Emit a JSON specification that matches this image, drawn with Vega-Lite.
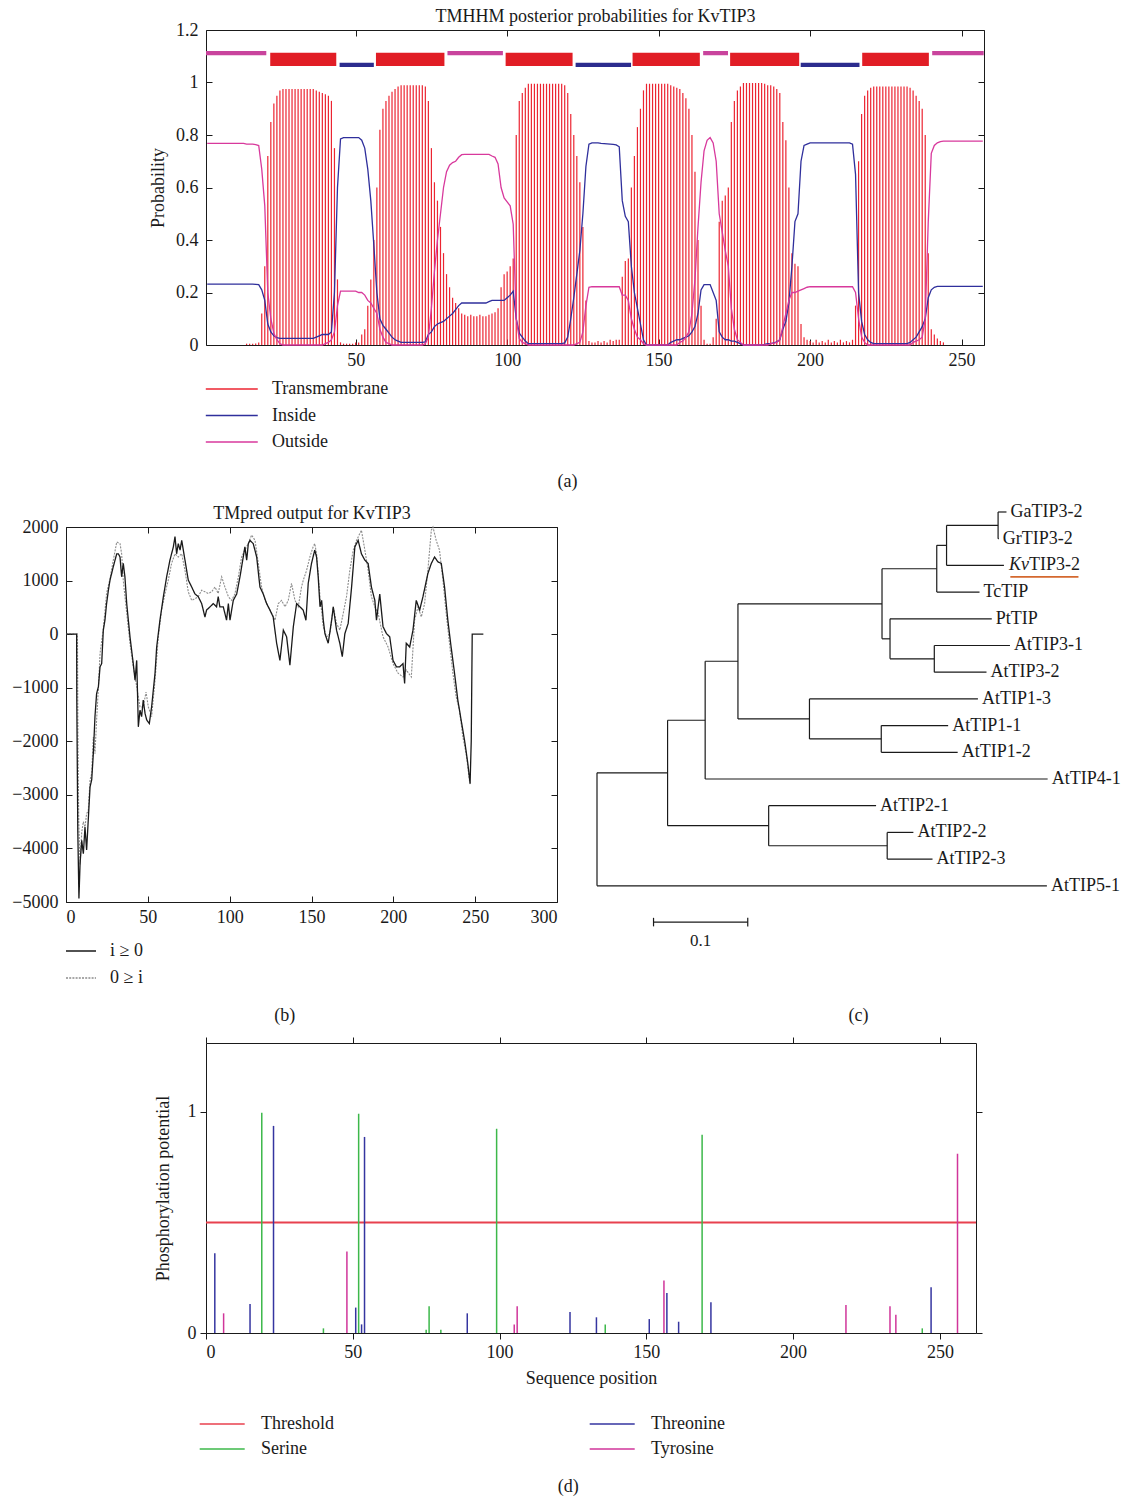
{
"$schema": "https://vega.github.io/schema/vega-lite/v6.json",
"padding": {"left": 11, "top": 7, "right": 0, "bottom": 0},
"background": "white",
"config": {
  "font": "Liberation Serif",
  "view": {"stroke": "#1a1a1a", "strokeWidth": 1},
  "axis": {"labelFont": "Liberation Serif", "titleFont": "Liberation Serif", "labelFontSize": 18, "titleFontSize": 18, "titleFontWeight": "normal", "labelColor": "#1a1a1a", "titleColor": "#1a1a1a", "tickColor": "#1a1a1a", "domain": false, "grid": false},
  "legend": {"labelFont": "Liberation Serif", "labelFontSize": 18, "labelColor": "#1a1a1a", "padding": 0},
  "title": {"font": "Liberation Serif", "fontSize": 18, "fontWeight": "normal", "color": "#1a1a1a"},
  "text": {"font": "Liberation Serif"}
},
"datasets": {
  "tmhmm": [
{"p":1,"t":0,"i":0.232,"o":0.768},{"p":2,"t":0,"i":0.232,"o":0.768},{"p":3,"t":0,"i":0.232,"o":0.768},{"p":4,"t":0,"i":0.232,"o":0.768},{"p":5,"t":0,"i":0.232,"o":0.768},{"p":6,"t":0,"i":0.232,"o":0.768},{"p":7,"t":0,"i":0.232,"o":0.768},{"p":8,"t":0,"i":0.232,"o":0.768},{"p":9,"t":0,"i":0.232,"o":0.768},{"p":10,"t":0,"i":0.232,"o":0.768},
{"p":11,"t":0,"i":0.232,"o":0.768},{"p":12,"t":0,"i":0.232,"o":0.768},{"p":13,"t":0,"i":0.232,"o":0.768},{"p":14,"t":0.005,"i":0.232,"o":0.765},{"p":15,"t":0.005,"i":0.232,"o":0.765},{"p":16,"t":0.005,"i":0.232,"o":0.765},{"p":17,"t":0.006,"i":0.231,"o":0.763},{"p":18,"t":0.01,"i":0.23,"o":0.76},{"p":19,"t":0.12,"i":0.21,"o":0.67},{"p":20,"t":0.3,"i":0.17,"o":0.53},
{"p":21,"t":0.72,"i":0.08,"o":0.2},{"p":22,"t":0.85,"i":0.05,"o":0.1},{"p":23,"t":0.92,"i":0.035,"o":0.045},{"p":24,"t":0.95,"i":0.028,"o":0.02},{"p":25,"t":0.97,"i":0.025,"o":0.005},{"p":26,"t":0.975,"i":0.025,"o":0},{"p":27,"t":0.975,"i":0.025,"o":0},{"p":28,"t":0.975,"i":0.025,"o":0},{"p":29,"t":0.975,"i":0.025,"o":0},{"p":30,"t":0.975,"i":0.025,"o":0},
{"p":31,"t":0.975,"i":0.025,"o":0},{"p":32,"t":0.975,"i":0.025,"o":0},{"p":33,"t":0.975,"i":0.025,"o":0},{"p":34,"t":0.975,"i":0.025,"o":0},{"p":35,"t":0.975,"i":0.025,"o":0},{"p":36,"t":0.975,"i":0.025,"o":0},{"p":37,"t":0.97,"i":0.03,"o":0},{"p":38,"t":0.965,"i":0.035,"o":0},{"p":39,"t":0.96,"i":0.04,"o":0},{"p":40,"t":0.955,"i":0.04,"o":0.005},
{"p":41,"t":0.95,"i":0.04,"o":0.01},{"p":42,"t":0.93,"i":0.05,"o":0.02},{"p":43,"t":0.75,"i":0.2,"o":0.05},{"p":44,"t":0.25,"i":0.6,"o":0.15},{"p":45,"t":0.01,"i":0.785,"o":0.205},{"p":46,"t":0.005,"i":0.79,"o":0.205},{"p":47,"t":0.005,"i":0.79,"o":0.205},{"p":48,"t":0.005,"i":0.79,"o":0.205},{"p":49,"t":0.005,"i":0.79,"o":0.205},{"p":50,"t":0.01,"i":0.79,"o":0.205},
{"p":51,"t":0.01,"i":0.79,"o":0.2},{"p":52,"t":0.04,"i":0.78,"o":0.2},{"p":53,"t":0.06,"i":0.75,"o":0.19},{"p":54,"t":0.15,"i":0.67,"o":0.17},{"p":55,"t":0.25,"i":0.55,"o":0.16},{"p":56,"t":0.4,"i":0.38,"o":0.14},{"p":57,"t":0.6,"i":0.2,"o":0.12},{"p":58,"t":0.82,"i":0.1,"o":0.06},{"p":59,"t":0.9,"i":0.075,"o":0.03},{"p":60,"t":0.93,"i":0.06,"o":0.01},
{"p":61,"t":0.95,"i":0.045,"o":0.005},{"p":62,"t":0.965,"i":0.03,"o":0},{"p":63,"t":0.975,"i":0.02,"o":0},{"p":64,"t":0.985,"i":0.015,"o":0},{"p":65,"t":0.99,"i":0.01,"o":0},{"p":66,"t":0.99,"i":0.01,"o":0},{"p":67,"t":0.99,"i":0.01,"o":0},{"p":68,"t":0.99,"i":0.01,"o":0},{"p":69,"t":0.99,"i":0.01,"o":0},{"p":70,"t":0.99,"i":0.01,"o":0},
{"p":71,"t":0.99,"i":0.01,"o":0},{"p":72,"t":0.99,"i":0.01,"o":0},{"p":73,"t":0.985,"i":0.012,"o":0.005},{"p":74,"t":0.93,"i":0.04,"o":0.03},{"p":75,"t":0.75,"i":0.05,"o":0.14},{"p":76,"t":0.62,"i":0.07,"o":0.28},{"p":77,"t":0.55,"i":0.08,"o":0.4},{"p":78,"t":0.45,"i":0.085,"o":0.5},{"p":79,"t":0.35,"i":0.09,"o":0.6},{"p":80,"t":0.27,"i":0.1,"o":0.66},
{"p":81,"t":0.22,"i":0.11,"o":0.685},{"p":82,"t":0.18,"i":0.12,"o":0.695},{"p":83,"t":0.16,"i":0.135,"o":0.7},{"p":84,"t":0.14,"i":0.15,"o":0.715},{"p":85,"t":0.12,"i":0.16,"o":0.725},{"p":86,"t":0.115,"i":0.16,"o":0.726},{"p":87,"t":0.11,"i":0.16,"o":0.726},{"p":88,"t":0.115,"i":0.16,"o":0.726},{"p":89,"t":0.11,"i":0.16,"o":0.726},{"p":90,"t":0.11,"i":0.16,"o":0.726},
{"p":91,"t":0.115,"i":0.16,"o":0.726},{"p":92,"t":0.11,"i":0.16,"o":0.726},{"p":93,"t":0.11,"i":0.16,"o":0.726},{"p":94,"t":0.115,"i":0.165,"o":0.726},{"p":95,"t":0.12,"i":0.17,"o":0.72},{"p":96,"t":0.125,"i":0.17,"o":0.715},{"p":97,"t":0.14,"i":0.17,"o":0.69},{"p":98,"t":0.22,"i":0.17,"o":0.6},{"p":99,"t":0.27,"i":0.17,"o":0.56},{"p":100,"t":0.28,"i":0.18,"o":0.545},
{"p":101,"t":0.3,"i":0.19,"o":0.53},{"p":102,"t":0.33,"i":0.205,"o":0.46},{"p":103,"t":0.8,"i":0.1,"o":0.1},{"p":104,"t":0.93,"i":0.045,"o":0.025},{"p":105,"t":0.96,"i":0.03,"o":0.01},{"p":106,"t":0.98,"i":0.015,"o":0.005},{"p":107,"t":0.995,"i":0.005,"o":0},{"p":108,"t":0.995,"i":0.005,"o":0},{"p":109,"t":0.995,"i":0.005,"o":0},{"p":110,"t":0.995,"i":0.005,"o":0},
{"p":111,"t":0.995,"i":0.005,"o":0},{"p":112,"t":0.995,"i":0.005,"o":0},{"p":113,"t":0.995,"i":0.005,"o":0},{"p":114,"t":0.995,"i":0.005,"o":0},{"p":115,"t":0.995,"i":0.005,"o":0},{"p":116,"t":0.995,"i":0.005,"o":0},{"p":117,"t":0.995,"i":0.005,"o":0},{"p":118,"t":0.995,"i":0.005,"o":0},{"p":119,"t":0.99,"i":0.008,"o":0},{"p":120,"t":0.96,"i":0.03,"o":0},
{"p":121,"t":0.88,"i":0.1,"o":0},{"p":122,"t":0.8,"i":0.18,"o":0},{"p":123,"t":0.72,"i":0.27,"o":0.005},{"p":124,"t":0.62,"i":0.36,"o":0.01},{"p":125,"t":0.45,"i":0.5,"o":0.05},{"p":126,"t":0.17,"i":0.68,"o":0.15},{"p":127,"t":0.015,"i":0.765,"o":0.22},{"p":128,"t":0.01,"i":0.77,"o":0.222},{"p":129,"t":0.01,"i":0.77,"o":0.222},{"p":130,"t":0.015,"i":0.77,"o":0.222},
{"p":131,"t":0.01,"i":0.768,"o":0.222},{"p":132,"t":0.015,"i":0.767,"o":0.222},{"p":133,"t":0.01,"i":0.766,"o":0.222},{"p":134,"t":0.02,"i":0.765,"o":0.222},{"p":135,"t":0.015,"i":0.764,"o":0.222},{"p":136,"t":0.02,"i":0.762,"o":0.222},{"p":137,"t":0.02,"i":0.755,"o":0.222},{"p":138,"t":0.26,"i":0.55,"o":0.19},{"p":139,"t":0.32,"i":0.49,"o":0.19},{"p":140,"t":0.33,"i":0.47,"o":0.17},
{"p":141,"t":0.6,"i":0.3,"o":0.1},{"p":142,"t":0.72,"i":0.2,"o":0.06},{"p":143,"t":0.83,"i":0.14,"o":0.03},{"p":144,"t":0.9,"i":0.08,"o":0.02},{"p":145,"t":0.97,"i":0.02,"o":0.005},{"p":146,"t":0.995,"i":0,"o":0},{"p":147,"t":0.995,"i":0,"o":0},{"p":148,"t":0.995,"i":0,"o":0},{"p":149,"t":0.995,"i":0,"o":0},{"p":150,"t":0.995,"i":0,"o":0},
{"p":151,"t":0.995,"i":0,"o":0},{"p":152,"t":0.995,"i":0,"o":0},{"p":153,"t":0.995,"i":0,"o":0},{"p":154,"t":0.99,"i":0.01,"o":0},{"p":155,"t":0.985,"i":0.015,"o":0},{"p":156,"t":0.98,"i":0.02,"o":0},{"p":157,"t":0.975,"i":0.02,"o":0.01},{"p":158,"t":0.96,"i":0.025,"o":0.015},{"p":159,"t":0.94,"i":0.03,"o":0.03},{"p":160,"t":0.9,"i":0.035,"o":0.05},
{"p":161,"t":0.8,"i":0.05,"o":0.12},{"p":162,"t":0.66,"i":0.07,"o":0.25},{"p":163,"t":0.4,"i":0.12,"o":0.45},{"p":164,"t":0.15,"i":0.21,"o":0.62},{"p":165,"t":0.02,"i":0.23,"o":0.74},{"p":166,"t":0.005,"i":0.23,"o":0.78},{"p":167,"t":0.005,"i":0.23,"o":0.79},{"p":168,"t":0.03,"i":0.2,"o":0.77},{"p":169,"t":0.1,"i":0.17,"o":0.7},{"p":170,"t":0.47,"i":0.05,"o":0.5},
{"p":171,"t":0.55,"i":0.03,"o":0.43},{"p":172,"t":0.57,"i":0.02,"o":0.36},{"p":173,"t":0.6,"i":0.02,"o":0.3},{"p":174,"t":0.85,"i":0.015,"o":0.14},{"p":175,"t":0.93,"i":0.015,"o":0.06},{"p":176,"t":0.97,"i":0.01,"o":0.02},{"p":177,"t":0.985,"i":0.005,"o":0.01},{"p":178,"t":0.998,"i":0,"o":0},{"p":179,"t":0.998,"i":0,"o":0},{"p":180,"t":0.998,"i":0,"o":0},
{"p":181,"t":0.998,"i":0,"o":0},{"p":182,"t":0.998,"i":0,"o":0},{"p":183,"t":0.998,"i":0,"o":0},{"p":184,"t":0.998,"i":0,"o":0},{"p":185,"t":0.995,"i":0.002,"o":0},{"p":186,"t":0.99,"i":0.005,"o":0},{"p":187,"t":0.99,"i":0.005,"o":0.005},{"p":188,"t":0.985,"i":0.008,"o":0.007},{"p":189,"t":0.975,"i":0.012,"o":0.01},{"p":190,"t":0.96,"i":0.02,"o":0.02},
{"p":191,"t":0.85,"i":0.06,"o":0.07},{"p":192,"t":0.78,"i":0.09,"o":0.12},{"p":193,"t":0.6,"i":0.16,"o":0.17},{"p":194,"t":0.35,"i":0.3,"o":0.2},{"p":195,"t":0.31,"i":0.47,"o":0.2},{"p":196,"t":0.3,"i":0.5,"o":0.205},{"p":197,"t":0.08,"i":0.7,"o":0.21},{"p":198,"t":0.03,"i":0.76,"o":0.215},{"p":199,"t":0.02,"i":0.765,"o":0.22},{"p":200,"t":0.015,"i":0.77,"o":0.222},
{"p":201,"t":0.01,"i":0.77,"o":0.222},{"p":202,"t":0.02,"i":0.77,"o":0.222},{"p":203,"t":0.01,"i":0.77,"o":0.222},{"p":204,"t":0.015,"i":0.77,"o":0.222},{"p":205,"t":0.01,"i":0.77,"o":0.222},{"p":206,"t":0.02,"i":0.77,"o":0.222},{"p":207,"t":0.01,"i":0.77,"o":0.222},{"p":208,"t":0.015,"i":0.77,"o":0.222},{"p":209,"t":0.01,"i":0.77,"o":0.222},{"p":210,"t":0.02,"i":0.77,"o":0.222},
{"p":211,"t":0.01,"i":0.77,"o":0.222},{"p":212,"t":0.015,"i":0.77,"o":0.222},{"p":213,"t":0.01,"i":0.77,"o":0.222},{"p":214,"t":0.02,"i":0.765,"o":0.222},{"p":215,"t":0.15,"i":0.65,"o":0.2},{"p":216,"t":0.7,"i":0.2,"o":0.1},{"p":217,"t":0.88,"i":0.09,"o":0.03},{"p":218,"t":0.95,"i":0.04,"o":0.01},{"p":219,"t":0.97,"i":0.02,"o":0},{"p":220,"t":0.98,"i":0.01,"o":0},
{"p":221,"t":0.985,"i":0.005,"o":0},{"p":222,"t":0.985,"i":0.005,"o":0},{"p":223,"t":0.985,"i":0.005,"o":0},{"p":224,"t":0.985,"i":0.005,"o":0},{"p":225,"t":0.985,"i":0.005,"o":0},{"p":226,"t":0.985,"i":0.005,"o":0},{"p":227,"t":0.985,"i":0.005,"o":0},{"p":228,"t":0.985,"i":0.005,"o":0},{"p":229,"t":0.985,"i":0.005,"o":0},{"p":230,"t":0.985,"i":0.005,"o":0},
{"p":231,"t":0.985,"i":0.005,"o":0},{"p":232,"t":0.985,"i":0.005,"o":0},{"p":233,"t":0.98,"i":0.01,"o":0},{"p":234,"t":0.97,"i":0.02,"o":0.01},{"p":235,"t":0.95,"i":0.03,"o":0.015},{"p":236,"t":0.93,"i":0.05,"o":0.02},{"p":237,"t":0.9,"i":0.07,"o":0.03},{"p":238,"t":0.8,"i":0.1,"o":0.1},{"p":239,"t":0.35,"i":0.18,"o":0.47},{"p":240,"t":0.06,"i":0.21,"o":0.73},
{"p":241,"t":0.04,"i":0.22,"o":0.76},{"p":242,"t":0.025,"i":0.223,"o":0.77},{"p":243,"t":0.015,"i":0.223,"o":0.775},{"p":244,"t":0.01,"i":0.223,"o":0.777},{"p":245,"t":0,"i":0.223,"o":0.777},{"p":246,"t":0,"i":0.223,"o":0.777},{"p":247,"t":0,"i":0.223,"o":0.777},{"p":248,"t":0,"i":0.223,"o":0.777},{"p":249,"t":0,"i":0.223,"o":0.777},{"p":250,"t":0,"i":0.223,"o":0.777},
{"p":251,"t":0,"i":0.223,"o":0.777},{"p":252,"t":0,"i":0.223,"o":0.777},{"p":253,"t":0,"i":0.223,"o":0.777},{"p":254,"t":0,"i":0.223,"o":0.777},{"p":255,"t":0,"i":0.223,"o":0.777},{"p":256,"t":0,"i":0.223,"o":0.777},{"p":257,"t":0,"i":0.223,"o":0.777}
  ],
  "topo": [
{"s":"out","a":0.6,"b":20.5},{"s":"tm","a":21.8,"b":43.6},{"s":"in","a":44.7,"b":56.0},{"s":"tm","a":56.7,"b":79.3},{"s":"out","a":80.3,"b":98.6},{"s":"tm","a":99.5,"b":121.6},{"s":"in","a":122.6,"b":140.9},{"s":"tm","a":141.4,"b":163.6},{"s":"out","a":164.7,"b":172.9},{"s":"tm","a":173.6,"b":196.4},{"s":"in","a":196.9,"b":216.3},{"s":"tm","a":217.2,"b":239.2},{"s":"out","a":240.3,"b":257.3}
  ],
  "tmpred": [
{"s":"i ≥ 0","x":0,"v":0},{"s":"i ≥ 0","x":6.5,"v":0},{"s":"i ≥ 0","x":6.6,"v":-1230},{"s":"i ≥ 0","x":7.2,"v":-3660},{"s":"i ≥ 0","x":7.9,"v":-4935},{"s":"i ≥ 0","x":8.6,"v":-4280},{"s":"i ≥ 0","x":9.6,"v":-3850},{"s":"i ≥ 0","x":10.6,"v":-4100},{"s":"i ≥ 0","x":11.6,"v":-3600},{"s":"i ≥ 0","x":12.6,"v":-4030},{"s":"i ≥ 0","x":13.6,"v":-3470},{"s":"i ≥ 0","x":14.7,"v":-2850},{"s":"i ≥ 0","x":15.7,"v":-2720},{"s":"i ≥ 0","x":16.7,"v":-2230},{"s":"i ≥ 0","x":17.7,"v":-1540},{"s":"i ≥ 0","x":18.7,"v":-1110},{"s":"i ≥ 0","x":19.8,"v":-980},{"s":"i ≥ 0","x":20.8,"v":-610},{"s":"i ≥ 0","x":21.8,"v":-550},{"s":"i ≥ 0","x":22.8,"v":75},{"s":"i ≥ 0","x":23.8,"v":260},{"s":"i ≥ 0","x":24.8,"v":570},{"s":"i ≥ 0","x":25.9,"v":820},{"s":"i ≥ 0","x":26.9,"v":1010},{"s":"i ≥ 0","x":28.9,"v":1260},{"s":"i ≥ 0","x":31,"v":1500},{"s":"i ≥ 0","x":32,"v":1500},{"s":"i ≥ 0","x":33,"v":1440},{"s":"i ≥ 0","x":34,"v":1070},{"s":"i ≥ 0","x":35,"v":1320},{"s":"i ≥ 0","x":36,"v":1070},{"s":"i ≥ 0","x":37.1,"v":570},{"s":"i ≥ 0","x":39.1,"v":-50},{"s":"i ≥ 0","x":41.1,"v":-550},{"s":"i ≥ 0","x":42.2,"v":-860},{"s":"i ≥ 0","x":43.2,"v":-490},{"s":"i ≥ 0","x":44.2,"v":-1730},{"s":"i ≥ 0","x":45.2,"v":-1420},{"s":"i ≥ 0","x":46.2,"v":-1540},{"s":"i ≥ 0","x":47.2,"v":-1230},{"s":"i ≥ 0","x":48.3,"v":-1480},{"s":"i ≥ 0","x":49.3,"v":-1600},{"s":"i ≥ 0","x":50.9,"v":-1670},{"s":"i ≥ 0","x":52.3,"v":-1360},{"s":"i ≥ 0","x":54.4,"v":-730},{"s":"i ≥ 0","x":55.4,"v":-240},{"s":"i ≥ 0","x":57.4,"v":260},{"s":"i ≥ 0","x":59.5,"v":700},{"s":"i ≥ 0","x":61.5,"v":1070},{"s":"i ≥ 0","x":63.5,"v":1380},{"s":"i ≥ 0","x":65.6,"v":1630},{"s":"i ≥ 0","x":66.6,"v":1820},{"s":"i ≥ 0","x":67.6,"v":1500},{"s":"i ≥ 0","x":68.6,"v":1690},{"s":"i ≥ 0","x":69.7,"v":1570},{"s":"i ≥ 0","x":70.7,"v":1750},{"s":"i ≥ 0","x":72.7,"v":1380},{"s":"i ≥ 0","x":74.7,"v":1010},{"s":"i ≥ 0","x":76.8,"v":880},{"s":"i ≥ 0","x":78.8,"v":750},{"s":"i ≥ 0","x":80.8,"v":700},{"s":"i ≥ 0","x":82.9,"v":570},{"s":"i ≥ 0","x":84.9,"v":320},{"s":"i ≥ 0","x":85.9,"v":450},{"s":"i ≥ 0","x":88,"v":510},{"s":"i ≥ 0","x":90,"v":570},{"s":"i ≥ 0","x":92,"v":510},{"s":"i ≥ 0","x":93,"v":700},{"s":"i ≥ 0","x":94,"v":510},{"s":"i ≥ 0","x":96.1,"v":510},{"s":"i ≥ 0","x":98.1,"v":260},{"s":"i ≥ 0","x":99.2,"v":570},{"s":"i ≥ 0","x":100.2,"v":260},{"s":"i ≥ 0","x":102.2,"v":630},{"s":"i ≥ 0","x":104.3,"v":750},{"s":"i ≥ 0","x":106.3,"v":1070},{"s":"i ≥ 0","x":108.3,"v":1440},{"s":"i ≥ 0","x":109.3,"v":1630},{"s":"i ≥ 0","x":110.4,"v":1380},{"s":"i ≥ 0","x":111.4,"v":1690},{"s":"i ≥ 0","x":112.4,"v":1750},{"s":"i ≥ 0","x":114.4,"v":1690},{"s":"i ≥ 0","x":116.5,"v":1440},{"s":"i ≥ 0","x":118.5,"v":880},{"s":"i ≥ 0","x":120.5,"v":750},{"s":"i ≥ 0","x":122.6,"v":570},{"s":"i ≥ 0","x":124.6,"v":450},{"s":"i ≥ 0","x":126.6,"v":320},{"s":"i ≥ 0","x":128.7,"v":-170},{"s":"i ≥ 0","x":130.7,"v":-490},{"s":"i ≥ 0","x":132.8,"v":75},{"s":"i ≥ 0","x":134.8,"v":-50},{"s":"i ≥ 0","x":136.8,"v":-580},{"s":"i ≥ 0","x":138.9,"v":140},{"s":"i ≥ 0","x":140.9,"v":570},{"s":"i ≥ 0","x":142.9,"v":510},{"s":"i ≥ 0","x":144.9,"v":450},{"s":"i ≥ 0","x":146.6,"v":260},{"s":"i ≥ 0","x":148,"v":950},{"s":"i ≥ 0","x":150,"v":1320},{"s":"i ≥ 0","x":152,"v":1570},{"s":"i ≥ 0","x":153.1,"v":1440},{"s":"i ≥ 0","x":154.1,"v":1070},{"s":"i ≥ 0","x":155.2,"v":510},{"s":"i ≥ 0","x":156.2,"v":630},{"s":"i ≥ 0","x":157.2,"v":260},{"s":"i ≥ 0","x":158.2,"v":10},{"s":"i ≥ 0","x":160.2,"v":-170},{"s":"i ≥ 0","x":162.3,"v":260},{"s":"i ≥ 0","x":163.3,"v":510},{"s":"i ≥ 0","x":165.3,"v":75},{"s":"i ≥ 0","x":167.3,"v":-170},{"s":"i ≥ 0","x":168.8,"v":-420},{"s":"i ≥ 0","x":170.4,"v":10},{"s":"i ≥ 0","x":172.4,"v":200},{"s":"i ≥ 0","x":174.5,"v":880},{"s":"i ≥ 0","x":176.5,"v":1630},{"s":"i ≥ 0","x":178.5,"v":1750},{"s":"i ≥ 0","x":180.5,"v":1500},{"s":"i ≥ 0","x":182.6,"v":1380},{"s":"i ≥ 0","x":184.6,"v":1320},{"s":"i ≥ 0","x":186.6,"v":880},{"s":"i ≥ 0","x":188.7,"v":630},{"s":"i ≥ 0","x":189.7,"v":260},{"s":"i ≥ 0","x":191.7,"v":750},{"s":"i ≥ 0","x":193.7,"v":140},{"s":"i ≥ 0","x":195.8,"v":10},{"s":"i ≥ 0","x":197.8,"v":-50},{"s":"i ≥ 0","x":199.8,"v":-490},{"s":"i ≥ 0","x":201.9,"v":-610},{"s":"i ≥ 0","x":203.9,"v":-610},{"s":"i ≥ 0","x":205.9,"v":-550},{"s":"i ≥ 0","x":206.9,"v":-920},{"s":"i ≥ 0","x":207.9,"v":-170},{"s":"i ≥ 0","x":210,"v":-240},{"s":"i ≥ 0","x":212,"v":75},{"s":"i ≥ 0","x":214,"v":630},{"s":"i ≥ 0","x":216.1,"v":450},{"s":"i ≥ 0","x":218.1,"v":700},{"s":"i ≥ 0","x":221.1,"v":1130},{"s":"i ≥ 0","x":223.2,"v":1320},{"s":"i ≥ 0","x":225.2,"v":1440},{"s":"i ≥ 0","x":227.2,"v":1350},{"s":"i ≥ 0","x":229.3,"v":1320},{"s":"i ≥ 0","x":231.3,"v":880},{"s":"i ≥ 0","x":233.3,"v":260},{"s":"i ≥ 0","x":235.3,"v":-240},{"s":"i ≥ 0","x":237.4,"v":-730},{"s":"i ≥ 0","x":239.4,"v":-1230},{"s":"i ≥ 0","x":241.4,"v":-1600},{"s":"i ≥ 0","x":243.5,"v":-1980},{"s":"i ≥ 0","x":245.5,"v":-2410},{"s":"i ≥ 0","x":246.9,"v":-2790},{"s":"i ≥ 0","x":247.6,"v":-2000},{"s":"i ≥ 0","x":248,"v":-670},{"s":"i ≥ 0","x":248.2,"v":0},{"s":"i ≥ 0","x":255,"v":0},
{"s":"0 ≥ i","x":0,"v":0},{"s":"0 ≥ i","x":7,"v":0},{"s":"0 ≥ i","x":7.3,"v":-2000},{"s":"0 ≥ i","x":7.8,"v":-3500},{"s":"0 ≥ i","x":8.6,"v":-4300},{"s":"0 ≥ i","x":9.6,"v":-3700},{"s":"0 ≥ i","x":10.6,"v":-3500},{"s":"0 ≥ i","x":11.6,"v":-3600},{"s":"0 ≥ i","x":12.6,"v":-3350},{"s":"0 ≥ i","x":13.6,"v":-3300},{"s":"0 ≥ i","x":14.7,"v":-2720},{"s":"0 ≥ i","x":15.7,"v":-2600},{"s":"0 ≥ i","x":16.7,"v":-1920},{"s":"0 ≥ i","x":17.7,"v":-2230},{"s":"0 ≥ i","x":18.7,"v":-1600},{"s":"0 ≥ i","x":19.8,"v":-1000},{"s":"0 ≥ i","x":20.8,"v":-360},{"s":"0 ≥ i","x":22.8,"v":100},{"s":"0 ≥ i","x":24.8,"v":760},{"s":"0 ≥ i","x":26.9,"v":1040},{"s":"0 ≥ i","x":28.9,"v":1380},{"s":"0 ≥ i","x":31,"v":1720},{"s":"0 ≥ i","x":33,"v":1690},{"s":"0 ≥ i","x":34,"v":1500},{"s":"0 ≥ i","x":35,"v":1000},{"s":"0 ≥ i","x":37.1,"v":390},{"s":"0 ≥ i","x":39.1,"v":-170},{"s":"0 ≥ i","x":41.1,"v":-610},{"s":"0 ≥ i","x":43.2,"v":-980},{"s":"0 ≥ i","x":45.2,"v":-1360},{"s":"0 ≥ i","x":47.2,"v":-1360},{"s":"0 ≥ i","x":48.9,"v":-1080},{"s":"0 ≥ i","x":50.3,"v":-1360},{"s":"0 ≥ i","x":52.3,"v":-1540},{"s":"0 ≥ i","x":54.4,"v":-860},{"s":"0 ≥ i","x":56.4,"v":-50},{"s":"0 ≥ i","x":58.4,"v":450},{"s":"0 ≥ i","x":60.5,"v":760},{"s":"0 ≥ i","x":62.5,"v":1010},{"s":"0 ≥ i","x":64.5,"v":1320},{"s":"0 ≥ i","x":66.6,"v":1500},{"s":"0 ≥ i","x":68.6,"v":1440},{"s":"0 ≥ i","x":70.7,"v":1500},{"s":"0 ≥ i","x":72.7,"v":1190},{"s":"0 ≥ i","x":74.7,"v":790},{"s":"0 ≥ i","x":76.8,"v":630},{"s":"0 ≥ i","x":78.8,"v":660},{"s":"0 ≥ i","x":80.8,"v":700},{"s":"0 ≥ i","x":82.9,"v":820},{"s":"0 ≥ i","x":84.9,"v":790},{"s":"0 ≥ i","x":86.9,"v":760},{"s":"0 ≥ i","x":89,"v":790},{"s":"0 ≥ i","x":91,"v":880},{"s":"0 ≥ i","x":93,"v":760},{"s":"0 ≥ i","x":95.1,"v":1070},{"s":"0 ≥ i","x":97.1,"v":880},{"s":"0 ≥ i","x":99.2,"v":700},{"s":"0 ≥ i","x":101.2,"v":630},{"s":"0 ≥ i","x":103.2,"v":750},{"s":"0 ≥ i","x":105.3,"v":1070},{"s":"0 ≥ i","x":107.3,"v":1440},{"s":"0 ≥ i","x":109.3,"v":1570},{"s":"0 ≥ i","x":111.4,"v":1690},{"s":"0 ≥ i","x":113.4,"v":1850},{"s":"0 ≥ i","x":115.5,"v":1750},{"s":"0 ≥ i","x":117.5,"v":1320},{"s":"0 ≥ i","x":119.5,"v":880},{"s":"0 ≥ i","x":121.6,"v":630},{"s":"0 ≥ i","x":123.6,"v":510},{"s":"0 ≥ i","x":125.6,"v":390},{"s":"0 ≥ i","x":127.7,"v":260},{"s":"0 ≥ i","x":129.7,"v":570},{"s":"0 ≥ i","x":131.7,"v":630},{"s":"0 ≥ i","x":133.8,"v":510},{"s":"0 ≥ i","x":135.8,"v":630},{"s":"0 ≥ i","x":137.8,"v":950},{"s":"0 ≥ i","x":139.9,"v":630},{"s":"0 ≥ i","x":141.9,"v":510},{"s":"0 ≥ i","x":143.9,"v":880},{"s":"0 ≥ i","x":145,"v":1010},{"s":"0 ≥ i","x":147,"v":1190},{"s":"0 ≥ i","x":149,"v":1440},{"s":"0 ≥ i","x":151,"v":1630},{"s":"0 ≥ i","x":152,"v":1690},{"s":"0 ≥ i","x":153.1,"v":1500},{"s":"0 ≥ i","x":155.2,"v":700},{"s":"0 ≥ i","x":157.2,"v":140},{"s":"0 ≥ i","x":159.2,"v":-50},{"s":"0 ≥ i","x":161.3,"v":10},{"s":"0 ≥ i","x":163.3,"v":510},{"s":"0 ≥ i","x":165.3,"v":200},{"s":"0 ≥ i","x":167.3,"v":75},{"s":"0 ≥ i","x":169.4,"v":390},{"s":"0 ≥ i","x":171.4,"v":700},{"s":"0 ≥ i","x":173.4,"v":1190},{"s":"0 ≥ i","x":175.5,"v":1570},{"s":"0 ≥ i","x":177.5,"v":1750},{"s":"0 ≥ i","x":180.5,"v":1940},{"s":"0 ≥ i","x":182.6,"v":1570},{"s":"0 ≥ i","x":184.6,"v":1190},{"s":"0 ≥ i","x":186.6,"v":700},{"s":"0 ≥ i","x":188.7,"v":510},{"s":"0 ≥ i","x":190.7,"v":390},{"s":"0 ≥ i","x":193.7,"v":-50},{"s":"0 ≥ i","x":196.8,"v":-240},{"s":"0 ≥ i","x":199.8,"v":-550},{"s":"0 ≥ i","x":202.9,"v":-730},{"s":"0 ≥ i","x":205.9,"v":-800},{"s":"0 ≥ i","x":207.9,"v":-670},{"s":"0 ≥ i","x":211,"v":-800},{"s":"0 ≥ i","x":213,"v":260},{"s":"0 ≥ i","x":215.1,"v":510},{"s":"0 ≥ i","x":217.1,"v":320},{"s":"0 ≥ i","x":219.1,"v":570},{"s":"0 ≥ i","x":221.1,"v":1190},{"s":"0 ≥ i","x":223.2,"v":1940},{"s":"0 ≥ i","x":224.2,"v":2000},{"s":"0 ≥ i","x":226.2,"v":1750},{"s":"0 ≥ i","x":228.2,"v":1570},{"s":"0 ≥ i","x":230.3,"v":1010},{"s":"0 ≥ i","x":232.3,"v":390},{"s":"0 ≥ i","x":234.3,"v":-170},{"s":"0 ≥ i","x":236.4,"v":-730},{"s":"0 ≥ i","x":238.4,"v":-1170},{"s":"0 ≥ i","x":240.4,"v":-1420},{"s":"0 ≥ i","x":242.5,"v":-1920},{"s":"0 ≥ i","x":244.5,"v":-2230},{"s":"0 ≥ i","x":246.5,"v":-2730},{"s":"0 ≥ i","x":247,"v":-2800}
  ],
  "tree": [
{"x":0,"x2":0.0749,"y":9.77,"y2":9.77},{"x":0,"x2":0.4775,"y":14,"y2":14},{"x":0.0749,"x2":0.1148,"y":7.8,"y2":7.8},{"x":0.0749,"x2":0.1822,"y":11.75,"y2":11.75},{"x":0.1148,"x2":0.1496,"y":5.59,"y2":5.59},{"x":0.1148,"x2":0.4783,"y":10,"y2":10},{"x":0.1496,"x2":0.3025,"y":3.44,"y2":3.44},{"x":0.1496,"x2":0.2255,"y":7.75,"y2":7.75},{"x":0.3025,"x2":0.3606,"y":2.125,"y2":2.125},{"x":0.3025,"x2":0.311,"y":4.75,"y2":4.75},{"x":0.3606,"x2":0.371,"y":1.25,"y2":1.25},{"x":0.3606,"x2":0.406,"y":3,"y2":3},{"x":0.371,"x2":0.4257,"y":0.5,"y2":0.5},{"x":0.371,"x2":0.4319,"y":2,"y2":2},{"x":0.4257,"x2":0.4346,"y":0,"y2":0},{"x":0.4257,"x2":0.4265,"y":1,"y2":1},{"x":0.311,"x2":0.419,"y":4,"y2":4},{"x":0.311,"x2":0.358,"y":5.5,"y2":5.5},{"x":0.358,"x2":0.4383,"y":5,"y2":5},{"x":0.358,"x2":0.4134,"y":6,"y2":6},{"x":0.2255,"x2":0.4043,"y":7,"y2":7},{"x":0.2255,"x2":0.3017,"y":8.5,"y2":8.5},{"x":0.3017,"x2":0.3727,"y":8,"y2":8},{"x":0.3017,"x2":0.3828,"y":9,"y2":9},{"x":0.1822,"x2":0.2962,"y":11,"y2":11},{"x":0.1822,"x2":0.308,"y":12.5,"y2":12.5},{"x":0.308,"x2":0.3358,"y":12,"y2":12},{"x":0.308,"x2":0.3561,"y":13,"y2":13},
{"x":0,"x2":0,"y":9.77,"y2":14},{"x":0.0749,"x2":0.0749,"y":7.8,"y2":11.75},{"x":0.1148,"x2":0.1148,"y":5.59,"y2":10},{"x":0.1496,"x2":0.1496,"y":3.44,"y2":7.75},{"x":0.3025,"x2":0.3025,"y":2.125,"y2":4.75},{"x":0.3606,"x2":0.3606,"y":1.25,"y2":3},{"x":0.371,"x2":0.371,"y":0.5,"y2":2},{"x":0.4257,"x2":0.4257,"y":0,"y2":1},{"x":0.311,"x2":0.311,"y":4,"y2":5.5},{"x":0.358,"x2":0.358,"y":5,"y2":6},{"x":0.2255,"x2":0.2255,"y":7,"y2":8.5},{"x":0.3017,"x2":0.3017,"y":8,"y2":9},{"x":0.1822,"x2":0.1822,"y":11,"y2":12.5},{"x":0.308,"x2":0.308,"y":12,"y2":13}
  ],
  "leaves": [
{"n":"GaTIP3-2","x":0.4346,"y":0},{"n":"GrTIP3-2","x":0.4265,"y":1},{"n":"KvTIP3-2","x":0.4319,"y":2},{"n":"TcTIP","x":0.406,"y":3},{"n":"PtTIP","x":0.419,"y":4},{"n":"AtTIP3-1","x":0.4383,"y":5},{"n":"AtTIP3-2","x":0.4134,"y":6},{"n":"AtTIP1-3","x":0.4043,"y":7},{"n":"AtTIP1-1","x":0.3727,"y":8},{"n":"AtTIP1-2","x":0.3828,"y":9},{"n":"AtTIP4-1","x":0.4783,"y":10},{"n":"AtTIP2-1","x":0.2962,"y":11},{"n":"AtTIP2-2","x":0.3358,"y":12},{"n":"AtTIP2-3","x":0.3561,"y":13},{"n":"AtTIP5-1","x":0.4775,"y":14}
  ],
  "phos": [
{"type":"Threonine","p":3,"v":0.361},{"type":"Threonine","p":15,"v":0.131},{"type":"Threonine","p":23,"v":0.937},{"type":"Threonine","p":51,"v":0.115},{"type":"Threonine","p":53,"v":0.039},{"type":"Threonine","p":54,"v":0.887},{"type":"Threonine","p":89,"v":0.089},{"type":"Threonine","p":124,"v":0.095},{"type":"Threonine","p":133,"v":0.071},{"type":"Threonine","p":151,"v":0.063},{"type":"Threonine","p":157,"v":0.181},{"type":"Threonine","p":161,"v":0.051},{"type":"Threonine","p":172,"v":0.139},{"type":"Threonine","p":247,"v":0.207},
{"type":"Serine","p":19,"v":0.997},{"type":"Serine","p":40,"v":0.021},{"type":"Serine","p":52,"v":0.992},{"type":"Serine","p":75,"v":0.015},{"type":"Serine","p":76,"v":0.121},{"type":"Serine","p":80,"v":0.015},{"type":"Serine","p":99,"v":0.924},{"type":"Serine","p":136,"v":0.038},{"type":"Serine","p":169,"v":0.897},{"type":"Serine","p":244,"v":0.021},
{"type":"Tyrosine","p":6,"v":0.089},{"type":"Tyrosine","p":48,"v":0.369},{"type":"Tyrosine","p":105,"v":0.038},{"type":"Tyrosine","p":106,"v":0.121},{"type":"Tyrosine","p":156,"v":0.237},{"type":"Tyrosine","p":218,"v":0.127},{"type":"Tyrosine","p":233,"v":0.121},{"type":"Tyrosine","p":235,"v":0.083},{"type":"Tyrosine","p":256,"v":0.811}
  ]
},
"spacing": 10,
"resolve": {"scale": {"color": "independent", "strokeDash": "independent"}},
"vconcat": [
{
  "hconcat": [
    {"width": 82, "height": 10, "view": {"stroke": "transparent", "fill": "transparent"}, "data": {"values": [{}]}, "mark": {"type": "point", "opacity": 0}},
    {
      "width": 778, "height": 315,
      "title": {"text": "(a)", "orient": "bottom", "anchor": "middle", "frame": "bounds", "offset": 22},
      "resolve": {"axis": {"x": "independent", "y": "independent"}},
      "layer": [
        {"data": {"name": "tmhmm"}, "mark": {"type": "rule", "strokeWidth": 1.2},
         "encoding": {
           "x": {"field": "p", "type": "quantitative", "scale": {"domain": [0.6, 257.4], "nice": false, "zero": false}, "axis": {"orient": "bottom", "values": [50,100,150,200,250], "format": "d", "tickSize": -6, "labelPadding": 12, "title": null}},
           "y": {"field": "t", "type": "quantitative", "scale": {"domain": [0, 1.2], "nice": false}, "axis": {"orient": "left", "values": [0,0.2,0.4,0.6,0.8,1,1.2], "format": "~g", "tickSize": -6, "labelPadding": 14, "title": "Probability", "titlePadding": 8}},
           "y2": {"datum": 0},
           "color": {"datum": "Transmembrane", "scale": {"domain": ["Transmembrane", "Inside", "Outside"], "range": ["#ec2431", "#2f2f9c", "#d8399c"]},
                     "legend": {"orient": "bottom", "direction": "vertical", "title": null, "symbolType": "M-1.77,0H8.23", "symbolSize": 108, "symbolStrokeWidth": 1.5, "labelOffset": 48, "rowPadding": 8.5, "offset": 11, "labelFontSize": 18}}
         }},
        {"data": {"name": "tmhmm"}, "mark": {"type": "line", "strokeWidth": 1.3},
         "encoding": {
           "x": {"field": "p", "type": "quantitative", "axis": {"orient": "top", "values": [50,100,150,200,250], "tickSize": -6, "labels": false, "title": "TMHHM posterior probabilities for KvTIP3", "titlePadding": 4}},
           "y": {"field": "i", "type": "quantitative", "axis": {"orient": "right", "values": [0,0.2,0.4,0.6,0.8,1,1.2], "tickSize": -6, "labels": false, "title": null}},
           "color": {"datum": "Inside"}
         }},
        {"data": {"name": "tmhmm"}, "mark": {"type": "line", "strokeWidth": 1.3},
         "encoding": {
           "x": {"field": "p", "type": "quantitative", "axis": null},
           "y": {"field": "o", "type": "quantitative", "axis": null},
           "color": {"datum": "Outside"}
         }},
        {"data": {"name": "topo"}, "transform": [{"filter": "datum.s == 'out'"}], "mark": {"type": "rect", "color": "#c9449d"},
         "encoding": {"x": {"field": "a", "type": "quantitative", "axis": null}, "x2": {"field": "b"}, "y": {"datum": 1.1036, "type": "quantitative", "axis": null}, "y2": {"datum": 1.12}}},
        {"data": {"name": "topo"}, "transform": [{"filter": "datum.s == 'tm'"}], "mark": {"type": "rect", "color": "#e11d25"},
         "encoding": {"x": {"field": "a", "type": "quantitative", "axis": null}, "x2": {"field": "b"}, "y": {"datum": 1.063, "type": "quantitative", "axis": null}, "y2": {"datum": 1.1135}}},
        {"data": {"name": "topo"}, "transform": [{"filter": "datum.s == 'in'"}], "mark": {"type": "rect", "color": "#2c2c8e"},
         "encoding": {"x": {"field": "a", "type": "quantitative", "axis": null}, "x2": {"field": "b"}, "y": {"datum": 1.059, "type": "quantitative", "axis": null}, "y2": {"datum": 1.0752}}}
      ]
    }
  ],
  "spacing": 0,
  "resolve": {"scale": {"color": "independent"}}
},
{
  "hconcat": [
    {
      "width": 491, "height": 375,
      "title": {"text": "(b)", "orient": "bottom", "anchor": "middle", "frame": "bounds", "offset": 20},
      "resolve": {"axis": {"x": "independent", "y": "independent"}},
      "layer": [
        {"data": {"name": "tmpred"}, "transform": [{"filter": "datum.s == '0 ≥ i'"}], "mark": {"type": "line", "strokeWidth": 1.1},
         "encoding": {
           "x": {"field": "x", "type": "quantitative", "scale": {"domain": [0, 300], "nice": false, "zero": false}, "axis": {"orient": "top", "values": [0,50,100,150,200,250,300], "tickSize": -6, "labels": false, "title": "TMpred output for KvTIP3", "titlePadding": 4}},
           "y": {"field": "v", "type": "quantitative", "scale": {"domain": [-5000, 2000], "nice": false, "zero": false}, "axis": {"orient": "right", "values": [-5000,-4000,-3000,-2000,-1000,0,1000,2000], "tickSize": -6, "labels": false, "title": null}},
           "color": {"field": "s", "type": "nominal", "scale": {"domain": ["i ≥ 0", "0 ≥ i"], "range": ["#1a1a1a", "#8c8c8c"]}, "legend": {"orient": "bottom", "direction": "vertical", "title": null, "symbolType": "M-3,0H7", "symbolSize": 36, "symbolStrokeWidth": 1.5, "labelOffset": 26, "rowPadding": 9, "offset": 16, "labelFontSize": 18}},
           "strokeDash": {"field": "s", "type": "nominal", "scale": {"domain": ["i ≥ 0", "0 ≥ i"], "range": [[1, 0], [2, 1.2]]}, "legend": {"orient": "bottom", "direction": "vertical", "title": null, "symbolType": "M-3,0H7", "symbolSize": 36, "symbolStrokeWidth": 1.5, "labelOffset": 26, "rowPadding": 9, "offset": 16, "labelFontSize": 18}}
         }},
        {"data": {"name": "tmpred"}, "transform": [{"filter": "datum.s == 'i ≥ 0'"}], "mark": {"type": "line", "strokeWidth": 1.3},
         "encoding": {
           "x": {"field": "x", "type": "quantitative", "axis": {"orient": "bottom", "values": [0,50,100,150,200,250,300], "format": "d", "tickSize": -6, "labelPadding": 12, "title": null}},
           "y": {"field": "v", "type": "quantitative", "axis": {"orient": "left", "values": [-5000,-4000,-3000,-2000,-1000,0,1000,2000], "format": "d", "tickSize": -6, "labelPadding": 14, "title": null}},
           "color": {"field": "s", "type": "nominal", "legend": {"orient": "bottom", "direction": "vertical", "title": null, "symbolType": "M-3,0H7", "symbolSize": 36, "symbolStrokeWidth": 1.5, "labelOffset": 26, "rowPadding": 9, "offset": 16, "labelFontSize": 18}},
           "strokeDash": {"field": "s", "type": "nominal", "legend": {"orient": "bottom", "direction": "vertical", "title": null, "symbolType": "M-3,0H7", "symbolSize": 36, "symbolStrokeWidth": 1.5, "labelOffset": 26, "rowPadding": 9, "offset": 16, "labelFontSize": 18}}
         }}
      ]
    },
    {
      "width": 440, "height": 375,
      "view": {"stroke": null},
      "title": {"text": "(c)", "orient": "bottom", "anchor": "middle", "frame": "bounds", "offset": 58},
      "layer": [
        {"data": {"name": "tree"}, "mark": {"type": "rule", "strokeWidth": 1.2, "color": "#1a1a1a"},
         "encoding": {
           "x": {"field": "x", "type": "quantitative", "scale": {"domain": [0, 0.467], "nice": false, "zero": false}, "axis": null},
           "x2": {"field": "x2"},
           "y": {"field": "y", "type": "quantitative", "scale": {"domain": [0.562, 14.607], "nice": false, "zero": false, "reverse": true}, "axis": null},
           "y2": {"field": "y2"}
         }},
        {"data": {"name": "leaves"}, "transform": [{"filter": "datum.n != 'KvTIP3-2'"}], "mark": {"type": "text", "align": "left", "baseline": "middle", "dx": 4, "fontSize": 18, "color": "#1a1a1a"},
         "encoding": {"x": {"field": "x", "type": "quantitative"}, "y": {"field": "y", "type": "quantitative"}, "text": {"field": "n"}}},
        {"data": {"name": "leaves"}, "transform": [{"filter": "datum.n == 'KvTIP3-2'"}], "mark": {"type": "text", "align": "left", "baseline": "middle", "dx": 5, "fontSize": 18, "fontStyle": "italic", "color": "#1a1a1a", "text": "Kv"},
         "encoding": {"x": {"field": "x", "type": "quantitative"}, "y": {"field": "y", "type": "quantitative"}}},
        {"data": {"name": "leaves"}, "transform": [{"filter": "datum.n == 'KvTIP3-2'"}], "mark": {"type": "text", "align": "left", "baseline": "middle", "dx": 25, "fontSize": 18, "color": "#1a1a1a", "text": "TIP3-2"},
         "encoding": {"x": {"field": "x", "type": "quantitative"}, "y": {"field": "y", "type": "quantitative"}}},
        {"data": {"values": [{}]}, "mark": {"type": "rule", "color": "#d4692f", "strokeWidth": 1.6},
         "encoding": {"x": {"datum": 0.4387, "type": "quantitative"}, "x2": {"datum": 0.511}, "y": {"datum": 2.43, "type": "quantitative"}}},
        {"data": {"values": [{}]}, "mark": {"type": "rule", "color": "#1a1a1a", "strokeWidth": 1.2},
         "encoding": {"x": {"datum": 0.06, "type": "quantitative"}, "x2": {"datum": 0.16}, "y": {"datum": 15.36, "type": "quantitative"}}},
        {"data": {"values": [{}]}, "mark": {"type": "rule", "color": "#1a1a1a", "strokeWidth": 1.2},
         "encoding": {"x": {"datum": 0.06, "type": "quantitative"}, "y": {"datum": 15.2, "type": "quantitative"}, "y2": {"datum": 15.52}}},
        {"data": {"values": [{}]}, "mark": {"type": "rule", "color": "#1a1a1a", "strokeWidth": 1.2},
         "encoding": {"x": {"datum": 0.16, "type": "quantitative"}, "y": {"datum": 15.2, "type": "quantitative"}, "y2": {"datum": 15.52}}},
        {"data": {"values": [{}]}, "mark": {"type": "text", "text": "0.1", "fontSize": 17, "baseline": "middle", "align": "center", "color": "#1a1a1a"},
         "encoding": {"x": {"datum": 0.11, "type": "quantitative"}, "y": {"datum": 16.07, "type": "quantitative"}}}
      ]
    }
  ],
  "spacing": 38,
  "resolve": {"scale": {"color": "independent", "strokeDash": "independent"}}
},
{
  "hconcat": [
    {"width": 86, "height": 10, "view": {"stroke": "transparent", "fill": "transparent"}, "data": {"values": [{}]}, "mark": {"type": "point", "opacity": 0}},
    {
      "width": 770, "height": 290,
      "title": {"text": "(d)", "orient": "bottom", "anchor": "middle", "frame": "bounds", "offset": 20},
      "resolve": {"axis": {"x": "independent", "y": "independent"}},
      "layer": [
        {"data": {"values": [{}]}, "mark": {"type": "rule", "strokeWidth": 2},
         "encoding": {"y": {"datum": 0.5, "type": "quantitative", "axis": null}, "color": {"datum": "Threshold"}}},
        {"data": {"name": "phos"}, "transform": [{"filter": "datum.type == 'Threonine'"}], "mark": {"type": "rule", "strokeWidth": 1.5},
         "encoding": {
           "x": {"field": "p", "type": "quantitative", "scale": {"domain": [0, 262.3], "nice": false, "zero": false}, "axis": {"orient": "bottom", "values": [0,50,100,150,200,250], "format": "d", "tickSize": 6, "labelPadding": 4, "title": "Sequence position", "titlePadding": 8}},
           "y": {"field": "v", "type": "quantitative", "scale": {"domain": [0, 1.312], "nice": false}, "axis": {"orient": "left", "values": [0, 1], "format": "d", "tickSize": 6, "labelPadding": 4, "title": "Phosphorylation potential", "titlePadding": 15}},
           "y2": {"datum": 0},
           "color": {"field": "type", "type": "nominal", "scale": {"domain": ["Threshold", "Threonine", "Serine", "Tyrosine"], "range": ["#e8414e", "#3535a0", "#3cb84a", "#d0359a"]},
                     "legend": {"orient": "bottom", "columns": 2, "direction": "horizontal", "title": null, "symbolType": "M-3.4,0H6.6", "symbolSize": 81, "symbolStrokeWidth": 1.5, "labelOffset": 37, "columnPadding": 252, "rowPadding": 7, "offset": 28, "labelFontSize": 18}}
         }},
        {"data": {"name": "phos"}, "transform": [{"filter": "datum.type == 'Serine'"}], "mark": {"type": "rule", "strokeWidth": 1.5},
         "encoding": {
           "x": {"field": "p", "type": "quantitative", "axis": {"orient": "top", "values": [0,50,100,150,200,250], "tickSize": 6, "labels": false, "title": null}},
           "y": {"field": "v", "type": "quantitative", "axis": {"orient": "right", "values": [0, 1], "tickSize": 6, "labels": false, "title": null}},
           "y2": {"datum": 0},
           "color": {"field": "type", "type": "nominal"}
         }},
        {"data": {"name": "phos"}, "transform": [{"filter": "datum.type == 'Tyrosine'"}], "mark": {"type": "rule", "strokeWidth": 1.5},
         "encoding": {
           "x": {"field": "p", "type": "quantitative", "axis": null},
           "y": {"field": "v", "type": "quantitative", "axis": null},
           "y2": {"datum": 0},
           "color": {"field": "type", "type": "nominal"}
         }}
      ]
    }
  ],
  "spacing": 0,
  "resolve": {"scale": {"color": "independent"}}
}
]
}
